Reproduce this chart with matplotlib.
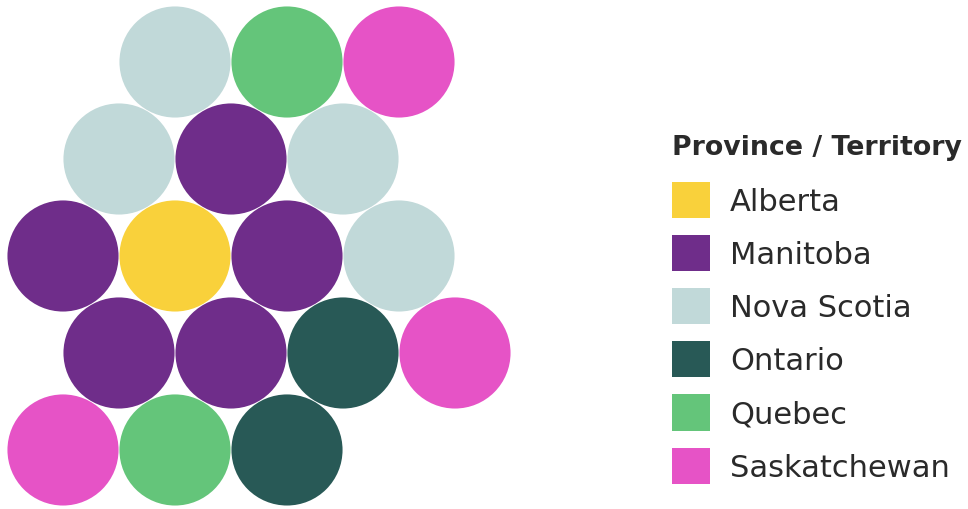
import matplotlib
matplotlib.use("Agg")
import matplotlib.pyplot as plt
from matplotlib.patches import Circle, Patch
import numpy as np

# Hex-grid layout: half-column index and row for each circle, plus its province
hex_cols = [2, 4, 6,
            1, 3, 5,
            0, 2, 4, 6,
            1, 3, 5, 7,
            0, 2, 4]
hex_rows = [0, 0, 0,
            1, 1, 1,
            2, 2, 2, 2,
            3, 3, 3, 3,
            4, 4, 4]
provinces = ["Nova Scotia", "Quebec", "Saskatchewan",
             "Nova Scotia", "Manitoba", "Nova Scotia",
             "Manitoba", "Alberta", "Manitoba", "Nova Scotia",
             "Manitoba", "Manitoba", "Ontario", "Saskatchewan",
             "Saskatchewan", "Quebec", "Ontario"]

legend_names = ["Alberta", "Manitoba", "Nova Scotia", "Ontario", "Quebec", "Saskatchewan"]
legend_colors = ["#F9D13B", "#6F2D8A", "#C1D9D9", "#285956", "#64C57A", "#E653C6"]
palette = dict(zip(legend_names, legend_colors))

fig = plt.figure(figsize=(9.68, 5.10), dpi=100)
fig.patch.set_facecolor("white")

# axes occupying the left part; 1 data unit = 112 px
ax = fig.add_axes([0, 0, 520 / 968, 1])
row_step = np.sqrt(3) / 2
for c, r, p in zip(hex_cols, hex_rows, provinces):
    ax.add_patch(Circle((c * 0.5, -r * row_step), 0.496,
                        facecolor=palette[p], edgecolor="none"))
ax.set_xlim(-63 / 112, (520 - 63) / 112)
ax.set_ylim(63 / 112 - 510 / 112, 63 / 112)
ax.axis("off")

handles = [Patch(facecolor=col, edgecolor="none", label=name)
           for name, col in zip(legend_names, legend_colors)]
fs = 22
fpx = fs * 100 / 72
leg = fig.legend(
    handles=handles,
    title="Province / Territory",
    loc="upper left",
    bbox_to_anchor=(672 / 968, 1 - 135 / 510),
    frameon=False,
    fontsize=fs,
    title_fontproperties={"size": 19.3, "weight": "bold"},
    handlelength=38 / fpx,
    handleheight=37 / fpx * 1.19,
    labelspacing=17 / fpx,
    handletextpad=20 / fpx,
    borderpad=0,
    borderaxespad=0,
    alignment="left",
)
# a little more room between the title and the entries
leg._legend_box.sep += 5 * 0.72
for t in leg.get_texts():
    t.set_color("#2a2a2a")
leg.get_title().set_color("#2a2a2a")

fig.savefig("out.png", dpi=100)
